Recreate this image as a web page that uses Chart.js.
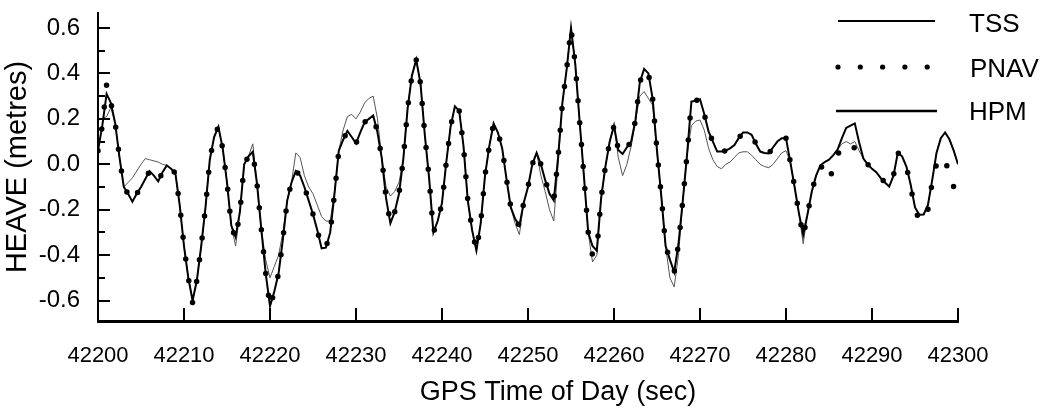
<!DOCTYPE html>
<html>
<head>
<meta charset="utf-8">
<script src="https://cdn.jsdelivr.net/npm/chart.js@4.4.1/dist/chart.umd.min.js"></script>
<style>
  html, body { margin: 0; padding: 0; background: #fff; }
  #wrap { width: 1054px; height: 413px; }
</style>
</head>
<body>
<div id="wrap"><canvas id="chart" width="1054" height="413"></canvas></div>
<script>
// sample grid: 0.5 s from 42200 to 42300 (201 samples)
const tStart = 42200;
const tStep = 0.5;

// HPM heave (m), one row = 5 s
const hpm = [
  0.06, 0.17, 0.31, 0.27, 0.18, 0.03, -0.10, -0.13, -0.165, -0.13,
  -0.10, -0.065, -0.03, -0.05, -0.075, -0.035, -0.005, -0.02, -0.04, -0.18,
  -0.36, -0.50, -0.60, -0.51, -0.36, -0.19, 0.02, 0.12, 0.165, 0.07,
  -0.08, -0.27, -0.32, -0.21, 0.00, 0.035, 0.055, -0.09, -0.29, -0.48,
  -0.625, -0.56, -0.48, -0.33, -0.16, -0.08, -0.03, -0.05, -0.10, -0.16,
  -0.22, -0.29, -0.37, -0.367, -0.30, -0.13, 0.06, 0.107, 0.147, 0.12,
  0.092, 0.14, 0.185, 0.20, 0.215, 0.14, 0.026, -0.15, -0.26, -0.21,
  -0.13, 0.022, 0.245, 0.39, 0.46, 0.356, 0.13, -0.06, -0.30, -0.25,
  -0.17, 0.01, 0.166, 0.255, 0.235, 0.08, -0.16, -0.29, -0.38, -0.26,
  -0.05, 0.08, 0.18, 0.14, 0.07, -0.065, -0.19, -0.24, -0.27, -0.17,
  -0.10, 0.0, 0.05, 0.0, -0.07, -0.13, -0.16, 0.03, 0.27, 0.42,
  0.60, 0.44, 0.19, -0.05, -0.30, -0.36, -0.38, -0.15, -0.01, 0.10,
  0.17, 0.063, 0.045, 0.075, 0.10, 0.195, 0.36, 0.42, 0.40, 0.287,
  0.06, -0.14, -0.36, -0.42, -0.475, -0.35, -0.16, 0.045, 0.276, 0.28,
  0.286, 0.22, 0.144, 0.10, 0.056, 0.056, 0.06, 0.07, 0.085, 0.115,
  0.14, 0.14, 0.13, 0.09, 0.056, 0.05, 0.048, 0.075, 0.10, 0.115,
  0.115, 0.01, -0.10, -0.215, -0.31, -0.22, -0.12, -0.05, -0.005, 0.01,
  0.02, 0.04, 0.065, 0.115, 0.16, 0.17, 0.18, 0.097, 0.025, 0.0,
  -0.02, -0.035, -0.06, -0.08, -0.098, -0.05, 0.05, 0.035, -0.01, -0.09,
  -0.19, -0.222, -0.221, -0.18, -0.07, 0.05, 0.115, 0.14, 0.11, 0.06,
  0.0
];

// TSS heave (m)
const tss = [
  0.20, 0.20, 0.21, 0.25, 0.18, 0.03, -0.10, -0.08, -0.06, -0.03,
  0.00, 0.025, 0.02, 0.015, 0.01, 0.0, -0.005, -0.02, -0.04, -0.18,
  -0.36, -0.50, -0.60, -0.51, -0.36, -0.19, 0.02, 0.12, 0.165, 0.07,
  -0.08, -0.27, -0.36, -0.21, 0.00, 0.035, 0.09, -0.09, -0.29, -0.42,
  -0.50, -0.45, -0.40, -0.30, -0.16, -0.08, 0.05, 0.03, -0.05, -0.10,
  -0.13, -0.18, -0.23, -0.25, -0.25, -0.12, 0.06, 0.15, 0.21, 0.22,
  0.20, 0.23, 0.27, 0.29, 0.30, 0.20, 0.026, -0.10, -0.14, -0.12,
  -0.08, 0.022, 0.245, 0.39, 0.46, 0.356, 0.13, -0.06, -0.30, -0.25,
  -0.17, 0.01, 0.166, 0.255, 0.235, 0.08, -0.16, -0.29, -0.38, -0.26,
  -0.05, 0.08, 0.18, 0.14, 0.07, -0.065, -0.19, -0.26, -0.31, -0.17,
  -0.10, 0.0, 0.05, -0.05, -0.12, -0.20, -0.25, 0.0, 0.27, 0.42,
  0.60, 0.44, 0.19, -0.05, -0.30, -0.43, -0.40, -0.15, -0.01, 0.10,
  0.17, 0.03, -0.05, 0.0, 0.08, 0.19, 0.30, 0.32, 0.29, 0.26,
  0.05, -0.14, -0.36, -0.50, -0.54, -0.40, -0.16, 0.04, 0.17, 0.19,
  0.195, 0.15, 0.07, 0.02, -0.01, -0.02, 0.0, 0.01, 0.03, 0.05,
  0.055, 0.055, 0.04, 0.02, 0.0, -0.01, -0.015, 0.0, 0.025, 0.05,
  0.06, 0.01, -0.10, -0.215, -0.35, -0.22, -0.12, -0.05, -0.005, 0.01,
  0.02, 0.04, 0.065, 0.09, 0.10, 0.09, 0.10, 0.06, 0.025, 0.0,
  -0.02, -0.035, -0.06, -0.08, -0.098, -0.05, 0.05, 0.035, -0.01, -0.09,
  -0.19, -0.222, -0.221, -0.18, -0.07, 0.05, 0.115, 0.14, 0.11, 0.06,
  0.0
];

// PNAV heave (m)
const pnav = [
  0.06, 0.17, 0.35, 0.27, 0.18, 0.03, -0.10, -0.13, -0.165, -0.13,
  -0.10, -0.065, -0.03, -0.05, -0.075, -0.035, -0.005, -0.02, -0.04, -0.18,
  -0.36, -0.50, -0.61, -0.51, -0.36, -0.19, 0.02, 0.12, 0.165, 0.07,
  -0.08, -0.27, -0.33, -0.21, 0.00, 0.035, 0.055, -0.09, -0.29, -0.48,
  -0.63, -0.56, -0.48, -0.33, -0.16, -0.08, -0.03, -0.05, -0.10, -0.16,
  -0.22, -0.29, -0.37, -0.367, -0.30, -0.13, 0.06, 0.107, 0.147, 0.12,
  0.092, 0.14, 0.185, 0.20, 0.215, 0.14, 0.026, -0.15, -0.26, -0.21,
  -0.13, 0.022, 0.245, 0.39, 0.46, 0.356, 0.13, -0.06, -0.30, -0.25,
  -0.17, 0.01, 0.166, 0.255, 0.235, 0.08, -0.16, -0.29, -0.38, -0.26,
  -0.05, 0.08, 0.18, 0.14, 0.07, -0.065, -0.19, -0.24, -0.27, -0.17,
  -0.10, 0.0, 0.05, 0.0, -0.07, -0.13, -0.16, 0.03, 0.27, 0.42,
  0.60, 0.44, 0.19, -0.05, -0.30, -0.40, -0.38, -0.15, -0.01, 0.10,
  0.17, 0.063, 0.045, 0.075, 0.10, 0.195, 0.36, 0.42, 0.40, 0.287,
  0.06, -0.14, -0.36, -0.42, -0.475, -0.35, -0.16, 0.045, 0.276, 0.28,
  0.286, 0.22, 0.144, 0.10, 0.056, 0.056, 0.06, 0.07, 0.085, 0.115,
  0.14, 0.14, 0.13, 0.09, 0.056, 0.05, 0.048, 0.075, 0.10, 0.115,
  0.115, 0.01, -0.10, -0.215, -0.32, -0.22, -0.12, -0.05, -0.005, -0.03,
  -0.07, -0.02, 0.04, 0.08, 0.085, 0.09, 0.07, 0.045, 0.025, 0.0,
  -0.02, -0.035, -0.06, -0.08, -0.098, -0.05, 0.05, 0.035, -0.01, -0.10,
  -0.20, -0.245, -0.25, -0.20, -0.08, 0.0, 0.035, 0.01, -0.03, -0.10,
  -0.15
];

const xTickValues = [42200, 42210, 42220, 42230, 42240, 42250, 42260, 42270, 42280, 42290, 42300];
const yTickValues = [-0.6, -0.5, -0.4, -0.3, -0.2, -0.1, 0.0, 0.1, 0.2, 0.3, 0.4, 0.5, 0.6];
const yTickLabels = { '-0.6': '-0.6', '-0.4': '-0.4', '-0.2': '-0.2', '0': '0.0', '0.2': '0.2', '0.4': '0.4', '0.6': '0.6' };
const seriesNames = ['TSS', 'PNAV', 'HPM'];

const FONT = '"Liberation Sans", Arial, Helvetica, sans-serif';

function toPoints(arr) {
  return arr.map(function(v, i) { return { x: tStart + i * tStep, y: v }; });
}

// inward tick marks, legend and x title
const decorPlugin = {
  id: 'decor',
  afterDraw: function(chart) {
    const ctx = chart.ctx;
    const xs = chart.scales.x;
    const ys = chart.scales.y;
    const area = chart.chartArea;
    ctx.save();
    ctx.strokeStyle = '#000';
    ctx.lineWidth = 2;
    ctx.beginPath();
    xTickValues.forEach(function(v) {
      const px = Math.round(xs.getPixelForValue(v));
      ctx.moveTo(px, area.bottom);
      ctx.lineTo(px, area.bottom - 13);
    });
    yTickValues.forEach(function(v) {
      const py = Math.round(ys.getPixelForValue(v));
      const major = yTickLabels[String(Math.round(v * 10) / 10)] !== undefined;
      ctx.moveTo(area.left, py);
      ctx.lineTo(area.left + (major ? 12 : 7), py);
    });
    ctx.stroke();

    // legend
    ctx.lineWidth = 2;
    ctx.beginPath();
    ctx.moveTo(838, 21); ctx.lineTo(935, 21);
    ctx.stroke();
    ctx.lineWidth = 2.5;
    ctx.beginPath();
    ctx.moveTo(836, 111); ctx.lineTo(937, 111);
    ctx.stroke();
    ctx.fillStyle = '#000';
    for (let k = 0; k < 5; k++) {
      ctx.beginPath();
      ctx.arc(838 + k * 22.3, 67, 2.6, 0, Math.PI * 2);
      ctx.fill();
    }
    ctx.font = '26px ' + FONT;
    ctx.textAlign = 'left';
    ctx.textBaseline = 'middle';
    ctx.fillText(seriesNames[0], 969, 25);
    ctx.fillText(seriesNames[1], 970, 70);
    ctx.fillText(seriesNames[2], 969, 113);

    // x axis title
    ctx.font = '27px ' + FONT;
    ctx.textAlign = 'center';
    ctx.fillText('GPS Time of Day (sec)', 558, 393);
    ctx.restore();
  }
};

const ctx = document.getElementById('chart').getContext('2d');
const chart = new Chart(ctx, {
  type: 'line',
  data: {
    datasets: [
      {
        label: 'TSS',
        data: toPoints(tss),
        borderColor: '#555',
        borderWidth: 1,
        pointRadius: 0,
        tension: 0,
        order: 3
      },
      {
        label: 'HPM',
        data: toPoints(hpm),
        borderColor: '#000',
        borderWidth: 2,
        pointRadius: 0,
        tension: 0,
        order: 2
      },
      {
        label: 'PNAV',
        data: toPoints(pnav),
        borderColor: '#000',
        borderWidth: 5.5,
        borderDash: [0, 22],
        borderCapStyle: 'round',
        pointRadius: 0,
        tension: 0,
        order: 1
      }
    ]
  },
  options: {
    responsive: false,
    animation: false,
    devicePixelRatio: 1,
    layout: { padding: { top: 13, right: 96, left: 0, bottom: 0 } },
    plugins: {
      legend: { display: false },
      tooltip: { enabled: false }
    },
    scales: {
      x: {
        type: 'linear',
        min: 42200,
        max: 42300,
        afterBuildTicks: function(scale) {
          scale.ticks = xTickValues.map(function(v) { return { value: v }; });
        },
        afterFit: function(scale) {
          scale.height = 92;
          scale.paddingLeft = 0;
          scale.paddingRight = 0;
        },
        grid: { drawOnChartArea: false, drawTicks: false },
        border: { display: true, color: '#000', width: 3 },
        ticks: {
          autoSkip: false,
          maxRotation: 0,
          padding: 22,
          color: '#000',
          font: { family: FONT, size: 22 },
          callback: function(value) { return String(value); }
        }
      },
      y: {
        min: -0.69,
        max: 0.666,
        afterBuildTicks: function(scale) {
          scale.ticks = yTickValues.map(function(v) { return { value: v }; });
        },
        afterFit: function(scale) {
          scale.width = 98;
          scale.paddingTop = 0;
          scale.paddingBottom = 0;
        },
        grid: { drawOnChartArea: false, drawTicks: false },
        border: { display: true, color: '#000', width: 2 },
        ticks: {
          autoSkip: false,
          padding: 18,
          color: '#000',
          font: { family: FONT, size: 24 },
          callback: function(value) {
            const key = String(Math.round(value * 10) / 10);
            return yTickLabels[key] !== undefined ? yTickLabels[key] : '';
          }
        },
        title: {
          display: true,
          text: 'HEAVE (metres)',
          color: '#000',
          font: { family: FONT, size: 29 },
          padding: { top: 1, bottom: 0 }
        }
      }
    }
  },
  plugins: [decorPlugin]
});
</script>
</body>
</html>
